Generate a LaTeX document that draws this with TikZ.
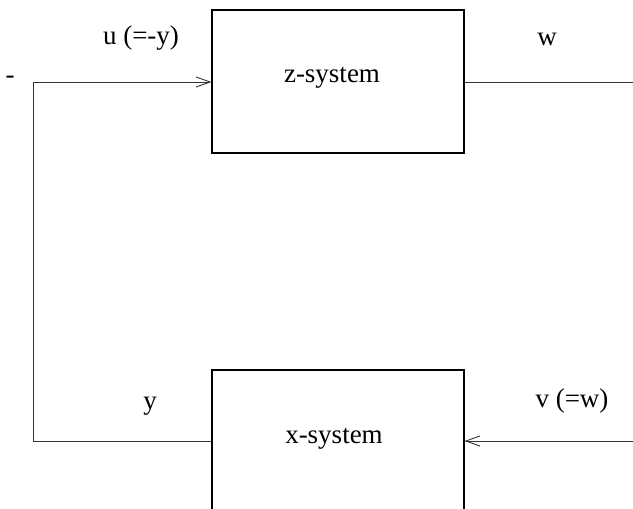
\documentclass[tikz,border=0pt]{standalone}
\usepackage{fontspec}
\setmainfont{Liberation Serif}
\usetikzlibrary{arrows.meta}
\begin{document}
\begin{tikzpicture}[x=1pt,y=-1pt,
  box/.style={draw, line width=1.1pt, minimum width=252pt, inner sep=0pt},
  lab/.style={font=\fontsize{27}{30}\selectfont, anchor=base, inner sep=0pt},
  wire/.style={line width=0.9pt, black!80},
  arr/.style={-{Straight Barb[length=14pt,width=10pt,line width=0.9pt]}}]
\useasboundingbox (0,0) rectangle (633,509);
\clip (0,0) rectangle (633,509);
\node[box, minimum height=143pt] (z) at (338,81.5) {};
\node[box, minimum height=160pt] (x) at (338,450) {};
\node[lab] (zt) at (332,82) {z-system};
\node[lab] (xt) at (334,443) {x-system};
\node[lab] (ut) at (141,44) {u (=-y)};
\node[lab] (wt) at (547,45) {w};
\node[lab] (mt) at (10,83) {-};
\node[lab] (yt) at (150,409) {y};
\node[lab] (vt) at (572,407) {v (=w)};
\coordinate (tl) at (33,82);
\coordinate (bl) at (33,441);
\coordinate (tr) at (633,82);
\coordinate (br) at (633,441);
\draw[wire,arr] (x.west |- bl) -- (bl) -- (tl) -- (z.west |- tl);
\draw[wire] (z.east |- tr) -- (tr);
\draw[wire,arr] (br) -- (x.east |- br);
\end{tikzpicture}
\end{document}
